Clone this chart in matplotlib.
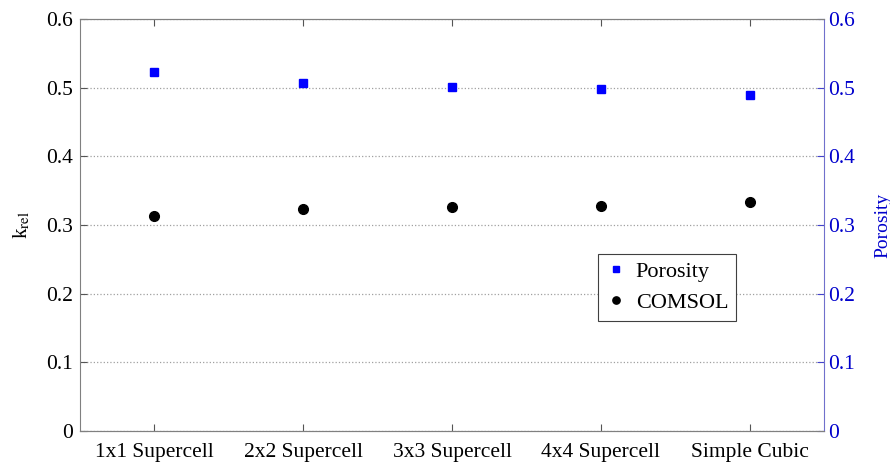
import matplotlib
matplotlib.use("Agg")
from matplotlib import pyplot as plt

plt.rcParams['font.family'] = ['Liberation Serif', 'DejaVu Serif']
plt.rcParams['mathtext.fontset'] = 'stix'

categories = ["1x1 Supercell", "2x2 Supercell", "3x3 Supercell", "4x4 Supercell", "Simple Cubic"]
comsol = [0.313, 0.323, 0.326, 0.328, 0.334]
porosity = [0.523, 0.507, 0.501, 0.498, 0.490]
yticks = [0, 0.1, 0.2, 0.3, 0.4, 0.5, 0.6]
ytick_labels = ["0", "0.1", "0.2", "0.3", "0.4", "0.5", "0.6"]

x = list(range(1, len(categories) + 1))

fig = plt.figure(figsize=(8.9, 4.62), dpi=100)
ax = fig.add_axes([0.0899, 0.0671, 0.836, 0.8918])
ax2 = ax.twinx()

h1, = ax.plot(x, comsol, 'o', color='black', markersize=7, linestyle='none', label='COMSOL')
h2, = ax2.plot(x, porosity, 's', color='#0000ff', markersize=6.2, linestyle='none', label='Porosity')

ax.set_xlim(0.5, 5.5)
ax.set_ylim(0, 0.6)
ax2.set_ylim(0, 0.6)
ax.set_xticks(x)
ax.set_xticklabels(categories, fontsize=15.5)
ax.set_yticks(yticks)
ax.set_yticklabels(ytick_labels, fontsize=15.5)
ax2.set_yticks(yticks)
ax2.set_yticklabels(ytick_labels, fontsize=15.5, color='#0000cc')

ax.set_ylabel(r'k$_{\mathrm{rel}}$', fontsize=15, labelpad=10)
ax2.set_ylabel('Porosity', fontsize=14, color='#0000cc', labelpad=14)

ax.yaxis.grid(True, linestyle=':', color='#a0a0a0', linewidth=0.9)
ax.tick_params(axis='x', direction='in', top=True, length=5, color='#555555', pad=9)
ax.tick_params(axis='y', direction='in', length=5, color='#555555', pad=5)
ax2.tick_params(axis='y', direction='in', length=5, color='#4444cc', pad=3)

for s in ['left', 'bottom', 'top']:
    ax.spines[s].set_color('#808080')
    ax2.spines[s].set_color('#808080')
ax.spines['right'].set_visible(False)
ax2.spines['right'].set_color('#7070cc')
ax2.spines['left'].set_visible(False)

leg = ax2.legend([h2, h1], ['Porosity', 'COMSOL'], loc='upper left',
                 bbox_to_anchor=(0.696, 0.43), borderaxespad=0,
                 fontsize=16, fancybox=False, framealpha=1, edgecolor='#404040',
                 markerscale=0.75, handlelength=0.9, handletextpad=0.45, borderpad=0.35,
                 labelspacing=0.45)
leg.get_frame().set_linewidth(0.8)

plt.savefig("out.png", dpi=100)
